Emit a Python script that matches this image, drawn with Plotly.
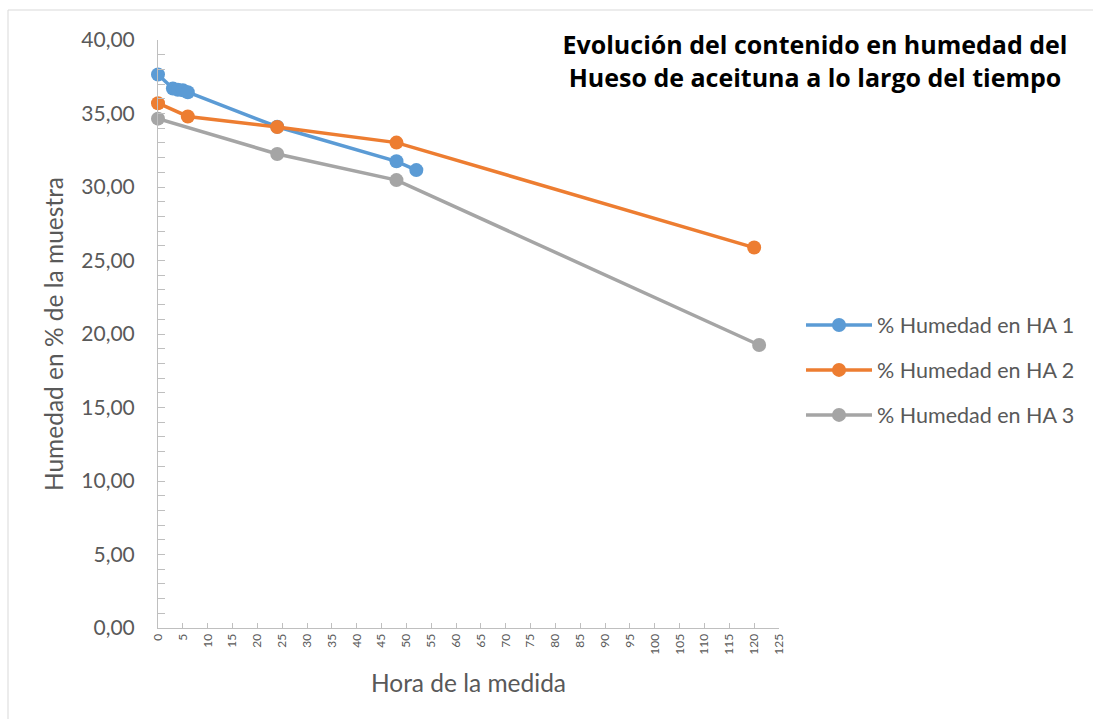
import plotly.graph_objects as go

# Measured moisture of olive pits (hueso de aceituna) over time
horas_ha1 = [0, 3, 4, 5, 6, 24, 48, 52]
humedad_ha1 = [37.65, 36.70, 36.62, 36.58, 36.45, 34.10, 31.75, 31.15]

horas_ha2 = [0, 6, 24, 48, 120]
humedad_ha2 = [35.70, 34.80, 34.08, 33.02, 25.88]

horas_ha3 = [0, 24, 48, 121]
humedad_ha3 = [34.65, 32.25, 30.47, 19.25]

series = [
    ("% Humedad en HA 1", horas_ha1, humedad_ha1, "#5B9BD5"),
    ("% Humedad en HA 2", horas_ha2, humedad_ha2, "#ED7D31"),
    ("% Humedad en HA 3", horas_ha3, humedad_ha3, "#A5A5A5"),
]

FONT = "Lato, 'Open Sans', sans-serif"
TITLE_FONT = "'Open Sans', Lato, sans-serif"
GREY_TXT = "#595959"
AXIS_CLR = "#BFBFBF"

fig = go.Figure()
for i, (name, xs, ys, color) in enumerate(series):
    fig.add_trace(go.Scatter(
        x=xs, y=ys, name=name, mode="lines+markers",
        line=dict(color=color, width=3.5),
        marker=dict(color=color, size=14, symbol="circle"),
        cliponaxis=False,
        legendgroup=f"g{i}",
    ))

# plot area in pixels: x 158..779, y 40..628
L, R, T, B = 158, 1093 - 779, 40, 719 - 628
PW, PH = 779 - 158, 628 - 40


def px_x(p):
    return (p - L) / PW


def px_y(p):
    return (628 - p) / PH


fig.update_layout(
    width=1093, height=719,
    margin=dict(l=L, r=R, t=T, b=B, autoexpand=False),
    paper_bgcolor="white", plot_bgcolor="white",
    font=dict(family=FONT, color=GREY_TXT),
    separators=",.",
    showlegend=True,
    title=dict(
        text="<b>Evolución del contenido en humedad del<br>Hueso de aceituna a lo largo del tiempo</b>",
        x=815 / 1093, xanchor="center", xref="container",
        y=1 - 54 / 719, yanchor="middle", yref="container",
        font=dict(family=TITLE_FONT, size=25, color="#000000"),
    ),
    legend=dict(
        x=px_x(801), xanchor="left",
        y=px_y(370), yanchor="middle",
        font=dict(family=FONT, size=21.5, color=GREY_TXT),
        itemwidth=66,
        tracegroupgap=14,
        traceorder="grouped",
        bgcolor="rgba(0,0,0,0)",
    ),
    xaxis=dict(
        range=[0, 125], dtick=5, tick0=0,
        showgrid=False, zeroline=False,
        showline=True, linecolor=AXIS_CLR, linewidth=1,
        ticks="inside", ticklen=5, tickcolor=AXIS_CLR,
        tickangle=-90,
        tickfont=dict(family=FONT, size=12, color=GREY_TXT),
        title=dict(text="Hora de la medida", font=dict(family=FONT, size=24.5, color=GREY_TXT), standoff=21),
        automargin=False,
    ),
    yaxis=dict(
        range=[0, 40], dtick=5, tick0=0, tickformat=".2f",
        showgrid=False, zeroline=False,
        showline=True, linecolor=AXIS_CLR, linewidth=1,
        ticks="inside", ticklen=7, tickcolor=AXIS_CLR,
        minor=dict(dtick=1, ticks="inside", ticklen=7, tickcolor=AXIS_CLR, showgrid=False),
        tickfont=dict(family=FONT, size=21, color=GREY_TXT),
        ticklabelstandoff=18,
        title=dict(text="Humedad en % de la muestra", font=dict(family=FONT, size=24.5, color=GREY_TXT), standoff=10),
        automargin=False,
    ),
    shapes=[dict(
        type="rect", xref="paper", yref="paper",
        x0=px_x(8), x1=px_x(1100), y0=px_y(730), y1=px_y(10),
        line=dict(color="#D9D9D9", width=1), fillcolor="rgba(0,0,0,0)", layer="below",
    )],
)

fig.write_html("out.html")
